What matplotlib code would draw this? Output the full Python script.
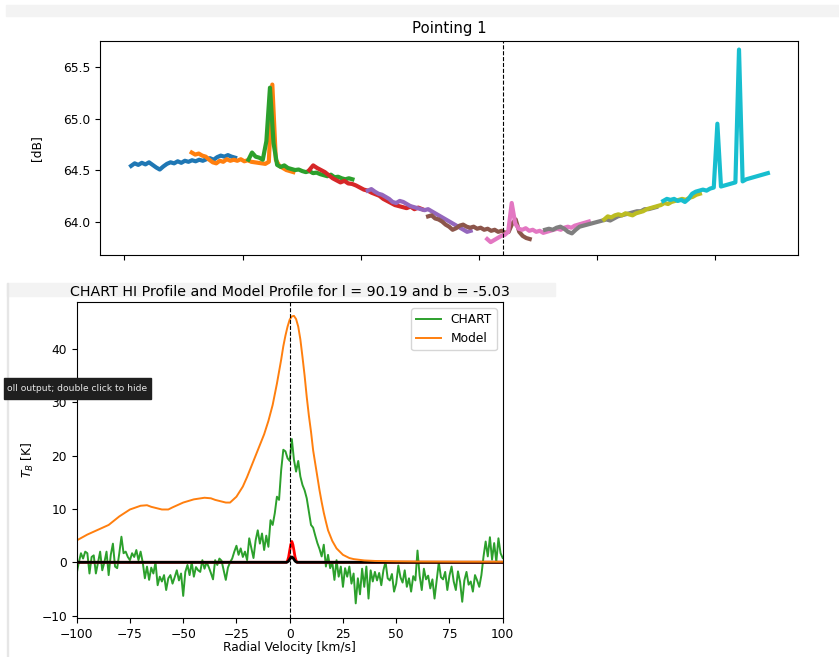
import numpy as np
import matplotlib
matplotlib.use("Agg")
import matplotlib.pyplot as plt
from matplotlib.patches import Rectangle

# ---- top panel: receiver power per scan segment (x in scan units)
seg_ranges = [(0.057, 0.937), (0.57, 1.43), (1.05, 1.93), (1.565, 2.52), (2.06, 2.93),
              (2.57, 3.43), (3.07, 3.93), (3.56, 4.50), (4.06, 4.87), (4.56, 5.445)]

seg_blue = [64.54, 64.565, 64.55, 64.57, 64.555, 64.575, 64.55, 64.525, 64.505, 64.535,
            64.56, 64.575, 64.565, 64.585, 64.57, 64.59, 64.58, 64.595, 64.585, 64.6,
            64.59, 64.605, 64.615, 64.6, 64.625, 64.64, 64.63, 64.645, 64.63, 64.62]
seg_orange = [64.67, 64.65, 64.66, 64.64, 64.63, 64.6, 64.575, 64.565, 64.59, 64.58,
              64.605, 64.59, 64.6, 64.59, 64.605, 64.585, 64.595, 64.58, 64.575, 64.57,
              64.565, 64.56, 64.58, 65.33, 64.6, 64.54, 64.52, 64.5, 64.49, 64.48]
seg_green = [64.6, 64.67, 64.63, 64.62, 64.6, 64.78, 65.30, 64.76, 64.55, 64.53,
             64.545, 64.52, 64.51, 64.5, 64.505, 64.49, 64.48, 64.49, 64.47, 64.475,
             64.46, 64.45, 64.44, 64.455, 64.43, 64.435, 64.42, 64.41, 64.42, 64.41]
seg_red = [64.5, 64.545, 64.52, 64.5, 64.48, 64.45, 64.42, 64.4, 64.38, 64.395,
           64.37, 64.365, 64.35, 64.33, 64.31, 64.3, 64.28, 64.265, 64.25, 64.22,
           64.2, 64.18, 64.16, 64.15, 64.14, 64.13, 64.145, 64.12, 64.135, 64.12]
seg_purple = [64.3, 64.315, 64.29, 64.27, 64.26, 64.24, 64.22, 64.19, 64.18, 64.2,
              64.19, 64.17, 64.15, 64.14, 64.13, 64.12, 64.11, 64.12, 64.1, 64.08,
              64.06, 64.04, 64.02, 64.0, 63.98, 63.96, 63.94, 63.92, 63.9, 63.91]
seg_brown = [64.05, 64.06, 64.03, 64.02, 64.0, 63.97, 63.95, 63.92, 63.935, 63.96,
             63.97, 63.95, 63.94, 63.95, 63.93, 63.94, 63.92, 63.93, 63.91, 63.92,
             63.9, 63.91, 63.89, 63.9, 63.98, 64.02, 63.9, 63.86, 63.84, 63.83]
seg_pink = [63.83, 63.8, 63.82, 63.84, 63.86, 63.87, 63.9, 64.18, 63.98, 63.93,
            63.92, 63.935, 63.91, 63.92, 63.9, 63.91, 63.89, 63.9, 63.91, 63.92,
            63.93, 63.92, 63.94, 63.95, 63.94, 63.96, 63.97, 63.98, 63.99, 64.0]
seg_gray = [63.92, 63.93, 63.92, 63.94, 63.95, 63.93, 63.9, 63.885, 63.92, 63.95,
            63.96, 63.97, 63.98, 63.99, 64.0, 64.01, 64.02, 64.01, 64.03, 64.05,
            64.06, 64.07, 64.08, 64.09, 64.1, 64.1, 64.12, 64.12, 64.13, 64.14]
seg_olive = [64.02, 64.05, 64.04, 64.06, 64.07, 64.06, 64.08, 64.07, 64.06, 64.08,
             64.09, 64.1, 64.12, 64.13, 64.14, 64.15, 64.16, 64.18, 64.17, 64.19,
             64.2, 64.21, 64.22, 64.21, 64.23, 64.24, 64.26, 64.27]
seg_cyan = [64.2, 64.22, 64.21, 64.22, 64.2, 64.21, 64.19, 64.22, 64.27, 64.29,
            64.3, 64.31, 64.3, 64.32, 64.33, 64.95, 64.34, 64.35, 64.36, 64.37,
            64.38, 65.67, 64.39, 64.41, 64.42, 64.43, 64.44, 64.45, 64.46, 64.47]
segments = [seg_blue, seg_orange, seg_green, seg_red, seg_purple,
            seg_brown, seg_pink, seg_gray, seg_olive, seg_cyan]
pointing_mark = 3.204

# ---- bottom panel: HI profile
chart_tb = [
    -2.1, 0.0, 1.7, 0.7, 2.0, 1.7, -2.1, 1.0, 1.3, -2.1,      # -100 .. -91
    0.0, 2.0, -1.5, 0.0, 2.0, -2.4, 1.4, 3.5, -0.8, -1.1,      # -90 .. -81
    1.7, 4.8, 1.7, 2.0, 1.0, 0.4, 1.7, 1.0, 2.3, 0.4,          # -80 .. -71
    2.0, 0.0, -3.0, -0.8, -3.3, -1.0, -2.1, 0.0, -4.3, -2.7,   # -70 .. -61
    -3.6, -2.4, -5.2, -3.0, -2.4, -4.0, -2.8, -1.5, -3.4, -2.1, # -60 .. -51
    -6.3, -1.8, -0.5, -2.4, 0.0, -2.7, -0.9, -1.5, -1.8, 0.4,  # -50 .. -41
    -1.2, 0.0, -0.9, -2.0, -3.2, 0.4, -0.5, 0.7, 0.3, -1.5,    # -40 .. -31
    -3.3, -1.0, 0.0, 0.7, 2.0, 3.1, 1.4, 2.6, 1.0, 2.0,        # -30 .. -21
    0.4, 4.5, 2.6, 0.8, 4.1, 6.0, 3.5, 5.4, 2.3, 5.0,          # -20 .. -11
    2.9, 7.9, 7.0, 9.2, 12.3, 11.7, 17.3, 21.1, 20.8, 19.5,    # -10 .. -1
    19.0, 23.1, 19.2, 17.0, 19.0, 16.1, 14.5, 13.5, 12.0, 9.5, # 0 .. 9
    7.0, 6.5, 5.0, 3.6, 2.5, 1.1, 3.3, -0.8, 1.4, -1.1,        # 10 .. 19
    0.0, -3.3, 0.4, -2.7, -0.8, -4.6, -1.1, -2.7, -0.8, -4.0,  # 20 .. 29
    -2.1, -7.7, -3.0, -6.0, -1.2, -4.6, -0.8, -6.8, -1.5, -3.6, # 30 .. 39
    -1.8, -3.4, -2.0, -4.3, -1.5, 0.1, -3.0, -3.4, -2.2, -5.5, # 40 .. 49
    -4.0, -0.6, -2.8, -3.8, -1.5, -4.6, -3.0, -5.5, -2.6, -3.4, # 50 .. 59
    2.2, -2.5, -5.2, -1.2, -3.2, -2.5, -4.9, -3.2, -6.8, -3.4, # 60 .. 69
    0.0, -2.8, -3.2, -1.8, -5.2, -2.5, -0.8, -3.6, -5.2, -1.7, # 70 .. 79
    -3.7, -7.4, -3.4, -1.8, -4.2, -3.6, -5.5, -2.4, -3.4, -4.6, # 80 .. 89
    -2.4, 1.1, 3.9, 1.1, 4.7, 0.5, 3.6, 0.1, 4.5, 1.7,         # 90 .. 99
    0.8]                                                       # 100
chart_vel = np.linspace(-100, 100, len(chart_tb))

model_vel = [-100, -95, -90, -85, -80, -75, -70, -67, -65, -60, -57, -55, -50, -45,
             -40, -37, -35, -30, -28, -25, -22, -20, -18, -16, -14, -12, -10, -8,
             -6, -4, -3, -2, -1, 0, 1, 2, 3, 4, 5, 6, 7, 8, 9, 10, 11, 12, 13, 14,
             15, 16, 17, 18, 20, 22, 25, 28, 30, 35, 40, 50, 60, 80, 100]
model_tb = [4.1, 5.2, 6.1, 7.0, 8.6, 9.9, 10.6, 10.7, 10.4, 9.9, 9.9, 10.3, 11.2, 11.8,
            12.1, 12.0, 11.7, 11.2, 11.2, 12.3, 14.2, 16.0, 18.0, 20.0, 22.0, 24.0, 26.5, 29.5,
            33.5, 38.0, 40.5, 42.5, 44.2, 45.5, 46.1, 46.2, 45.6, 44.2, 41.8, 38.5, 35.0, 31.0,
            27.5, 24.5, 21.0, 18.5, 16.0, 13.5, 11.3, 9.3, 7.6, 6.0, 4.0, 2.6, 1.4, 0.8,
            0.6, 0.35, 0.25, 0.18, 0.14, 0.11, 0.1]

gauss_vel = [-100, -1.5, -1.0, -0.5, 0.0, 0.5, 1.0, 1.5, 2.0, 2.5, 3.0, 3.5, 100]
gauss_red = [0, 0, 0.3, 1.0, 2.2, 3.3, 3.9, 3.3, 2.2, 1.0, 0.3, 0, 0]
gauss_black = [0, 0, 0.08, 0.25, 0.55, 0.85, 1.0, 0.85, 0.55, 0.25, 0.08, 0, 0]

# screenshot is scaled down a bit, so fonts are a touch smaller than default
plt.rcParams["font.size"] = 8.8
plt.rcParams["axes.titlesize"] = 10.7
plt.rcParams["axes.labelsize"] = 8.8
plt.rcParams["xtick.labelsize"] = 8.8
plt.rcParams["ytick.labelsize"] = 8.8
plt.rcParams["legend.fontsize"] = 8.8

W, H = 839, 657
fig = plt.figure(figsize=(W / 100, H / 100), dpi=100)


def px_rect(x0, y0, x1, y1):
    # figure-fraction box from pixel corners (top-left origin)
    return [x0 / W, 1 - y1 / H, (x1 - x0) / W, (y1 - y0) / H]


# notebook chrome in the screenshot
fig.patches.append(Rectangle((6 / W, 1 - 16 / H), (W - 6) / W, 11 / H,
                             transform=fig.transFigure, color="#f3f3f3", zorder=-5))
fig.patches.append(Rectangle((7 / W, 1 - 296 / H), 548 / W, 13 / H,
                             transform=fig.transFigure, color="#f3f3f3", zorder=-5))
fig.patches.append(Rectangle((7 / W, 0), 1 / W, 1 - 283 / H,
                             transform=fig.transFigure, color="#e6e6e6", zorder=-5))

# top panel
ax1 = fig.add_axes(px_rect(100, 41, 798, 255))
for (x0, x1), vals in zip(seg_ranges, segments):
    ax1.plot(np.linspace(x0, x1, len(vals)), vals, lw=3.0)
ax1.axvline(pointing_mark, color="k", ls="--", lw=0.8)
ax1.set_xlim(-0.206, 5.70)
ax1.set_ylim(63.675, 65.753)
ax1.set_xticks(range(6))
ax1.set_xticklabels([])
ax1.set_yticks([64.0, 64.5, 65.0, 65.5])
ax1.set_ylabel("[dB]")
ax1.yaxis.set_label_coords(-0.081, 0.5)
ax1.set_title("Pointing 1")

# bottom panel
ax2 = fig.add_axes(px_rect(76.7, 302, 502.7, 618.3))
ax2.plot(chart_vel, chart_tb, color="#2ca02c", lw=1.4, label="CHART")
ax2.plot(gauss_vel, gauss_red, color="red", lw=2)
ax2.plot(gauss_vel, gauss_black, color="k", lw=2)
ax2.plot(model_vel, model_tb, color="#ff7f0e", lw=1.4, label="Model")
ax2.axvline(0, color="k", ls="--", lw=0.8)
ax2.set_xlim(-100, 100)
ax2.set_ylim(-10.5, 48.8)
ax2.set_xlabel("Radial Velocity [km/s]")
ax2.xaxis.set_label_coords(0.5, -0.072)
ax2.set_ylabel(r"$T_B$ [K]")
ax2.yaxis.set_label_coords(-0.095, 0.5)
ax2.set_title("CHART HI Profile and Model Profile for l = 90.19 and b = -5.03",
              fontsize=10.3, pad=4)
handles, labels = ax2.get_legend_handles_labels()
ax2.legend(handles, labels, loc="upper right")

# tooltip overlay from the notebook UI
fig.patches.append(Rectangle((4 / W, 1 - 399 / H), 147 / W, 21 / H,
                             transform=fig.transFigure, color="#1f1f1f", zorder=10))
fig.text(7 / W, 1 - 388.5 / H, "oll output; double click to hide", color="#e8e8e8",
         fontsize=6.6, va="center", ha="left", zorder=11)

fig.savefig("out.png", dpi=100, facecolor="white")
